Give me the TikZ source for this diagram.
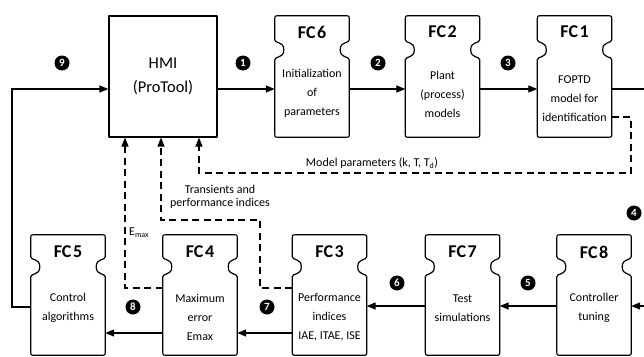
\documentclass[tikz,border=0pt]{standalone}
\usepackage{fontspec}
\setmainfont{Carlito}
\usetikzlibrary{arrows.meta,calc}
\tikzset{
 boxline/.style={line width=1.2pt, line join=round},
 conn/.style={line width=1.3pt, -{Triangle[length=9pt,width=7pt]}},
 dconn/.style={line width=1.2pt, dash pattern=on 7pt off 4.5pt, -{Triangle[length=9pt,width=7pt]}},
 fcnode/.style={minimum width=74pt, minimum height=121pt, inner sep=0pt, draw=none},
 fcnodeb/.style={minimum width=74pt, minimum height=120pt, inner sep=0pt, draw=none},
 fctitle/.style={font=\fontsize{18}{18}\selectfont\bfseries, inner sep=0pt},
 fctext/.style={font=\fontsize{12}{19}\selectfont, align=center, inner sep=0pt},
 badge/.style={circle, fill=black, text=white, minimum size=15pt, inner sep=0pt, font=\fontsize{11}{11}\selectfont\bfseries},
 lbl/.style={font=\fontsize{12}{12.5}\selectfont, inner sep=0pt, align=center},
}
\newcommand\fcdraw[2]{%
 \draw[boxline] let \p1=(#1.north west), \p2=(#1.south east) in
  (\x1,\y1-#2pt+10pt) -- (\x1,\y1-4pt) .. controls (\x1,\y1) .. (\x1+4pt,\y1)
  -- (\x2-4pt,\y1) .. controls (\x2,\y1) .. (\x2,\y1-4pt)
  -- (\x2,\y1-#2pt+10pt) .. controls (\x2,\y1-#2pt+6pt) and (\x2-9pt,\y1-#2pt+9pt) .. (\x2-9pt,\y1-#2pt)
  .. controls (\x2-9pt,\y1-#2pt-9pt) and (\x2,\y1-#2pt-6pt) .. (\x2,\y1-#2pt-10pt)
  -- (\x2,\y2+4pt) .. controls (\x2,\y2) .. (\x2-4pt,\y2)
  -- (\x1+4pt,\y2) .. controls (\x1,\y2) .. (\x1,\y2+4pt)
  -- (\x1,\y1-#2pt-10pt) .. controls (\x1,\y1-#2pt-6pt) and (\x1+9pt,\y1-#2pt-9pt) .. (\x1+9pt,\y1-#2pt)
  .. controls (\x1+9pt,\y1-#2pt+9pt) and (\x1,\y1-#2pt+6pt) .. (\x1,\y1-#2pt+10pt) -- cycle;
}
\begin{document}
\begin{tikzpicture}[x=1pt,y=-1pt]
\useasboundingbox (0,0) rectangle (644,356);
\clip (0,0) rectangle (644,356);
% HMI
\node[draw, boxline, minimum width=108pt, minimum height=121pt, inner sep=0pt, align=center,
      font=\fontsize{16.5}{24}\selectfont] (hmi) at (163,76.5) {HMI\\(ProTool)};
% top row boxes
\node[fcnode] (fc6) at (312,76.5) {};
\node[fcnode] (fc2) at (442.5,76.5) {};
\node[fcnode] (fc1) at (574.5,76.5) {};
\fcdraw{fc6}{34}\fcdraw{fc2}{34}\fcdraw{fc1}{34}
\node[fctitle] (t6) at (312,32) {FC\kern1.5pt 6};
\node[fctitle] (t2) at (442.5,32) {FC\kern1.5pt 2};
\node[fctitle] (t1) at (574.5,32) {FC\kern1.5pt 1};
\node[fctext] (x6) at (312,93) {Initialization\\of\\parameters};
\node[fctext] (x2) at (442.5,94) {Plant\\(process)\\models};
\node[fctext] (x1) at (574.5,98.5) {FOPTD\\model for\\identification};
% bottom row boxes
\node[fcnodeb] (fc5) at (68,295) {};
\node[fcnodeb] (fc4) at (200,295) {};
\node[fcnodeb] (fc3) at (329.5,295) {};
\node[fcnodeb] (fc7) at (462.5,295) {};
\node[fcnodeb] (fc8) at (594,295) {};
\fcdraw{fc5}{32}\fcdraw{fc4}{32}\fcdraw{fc3}{32}\fcdraw{fc7}{32}\fcdraw{fc8}{32}
\node[fctitle] (t5) at (68,252) {FC\kern1.5pt 5};
\node[fctitle] (t4) at (200,252) {FC\kern1.5pt 4};
\node[fctitle] (t3) at (329.5,252) {FC\kern1.5pt 3};
\node[fctitle] (t7) at (462.5,252) {FC\kern1.5pt 7};
\node[fctitle] (t8) at (594,252) {FC\kern1.5pt 8};
\node[fctext] (x5) at (68,308) {Control\\algorithms};
\node[fctext] (x4) at (200,317) {Maximum\\error\\Emax};
\node[fctext] (x3) at (329.5,317) {Performance\\indices\\IAE, ITAE, ISE};
\node[fctext] (x7) at (462.5,308) {Test\\simulations};
\node[fctext] (x8) at (594,308) {Controller\\tuning};
% solid connectors
\draw[conn] ([yshift=-12.5pt]hmi.east) -- ([yshift=-12.5pt]fc6.west);
\draw[conn] ([yshift=-12.5pt]fc6.east) -- ([yshift=-12.5pt]fc2.west);
\draw[conn] ([yshift=-12.5pt]fc2.east) -- ([yshift=-12.5pt]fc1.west);
\coordinate (rt) at (652,89);
\coordinate (rb) at (652,306);
\draw[conn] ([yshift=-12.5pt]fc1.east) -- (rt) -- (rb) -- ([yshift=-11pt]fc8.east);
\draw[conn] ([yshift=-11pt]fc8.west) -- ([yshift=-11pt]fc7.east);
\draw[conn] ([yshift=-11pt]fc7.west) -- ([yshift=-11pt]fc3.east);
\draw[conn] ([yshift=-38pt]fc3.west) -- ([yshift=-38pt]fc4.east);
\draw[conn] ([yshift=-38pt]fc4.west) -- ([yshift=-38pt]fc5.east);
\coordinate (lb) at (12,307);
\coordinate (lt) at (12,89);
\draw[conn] ([yshift=-12pt]fc5.west) -- (lb) -- (lt) -- ([yshift=-12.5pt]hmi.west);
% dashed connectors
\coordinate (da) at (631,117);
\coordinate (db) at (631,173);
\coordinate (dc) at (199,173);
\draw[dconn] ([yshift=-40.5pt]fc1.east) -- (da) -- (db) -- (dc) -- (hmi.south -| dc);
\coordinate (ea) at (260,288);
\coordinate (eb) at (260,220);
\coordinate (ec) at (161,220);
\draw[dconn] ([yshift=7pt]fc3.west) -- (ea) -- (eb) -- (ec) -- (hmi.south -| ec);
\coordinate (fa) at (125,288);
\draw[dconn] ([yshift=7pt]fc4.west) -- (fa) -- (hmi.south -| fa);
% labels
\node[lbl] (lm) at (372,163) {Model parameters (k, T, T\textsubscript{d})};
\node[lbl] (lt2) at (220,197) {Transients and\\performance indices};
\node[lbl, anchor=west] (le) at (129,233) {E\textsubscript{max}};
% badges
\node[badge] (b1) at (243,63) {1};
\node[badge] (b2) at (378,63) {2};
\node[badge] (b3) at (508,63) {3};
\node[badge] (b9) at (62,63) {9};
\node[badge] (b4) at (634,213) {4};
\node[badge] (b5) at (528,283) {5};
\node[badge] (b6) at (397,283) {6};
\node[badge] (b7) at (267,307) {7};
\node[badge] (b8) at (133,307) {8};
\end{tikzpicture}
\end{document}
